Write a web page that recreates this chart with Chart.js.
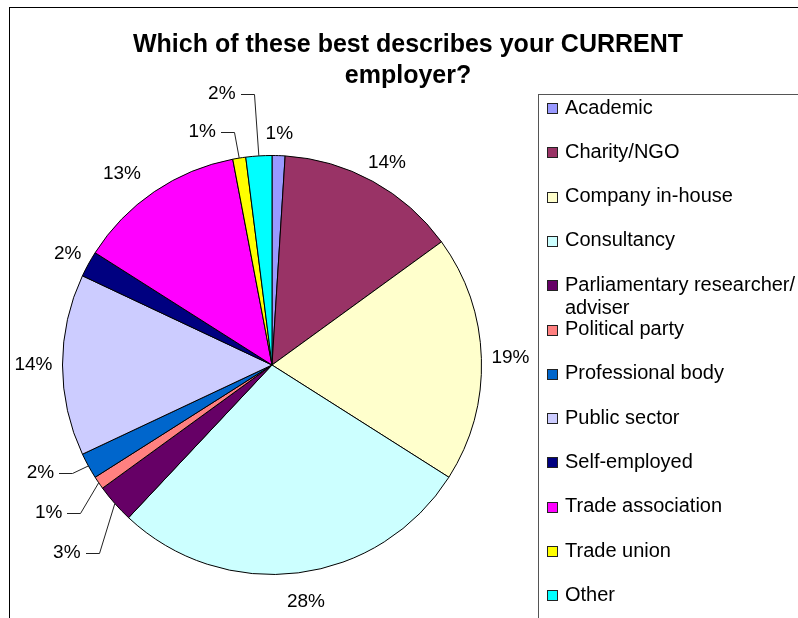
<!DOCTYPE html>
<html>
<head>
<meta charset="utf-8">
<script src="https://cdn.jsdelivr.net/npm/chart.js@4/dist/chart.umd.min.js"></script>
<style>
  html, body { margin: 0; padding: 0; background: #fff; }
  #wrap { width: 798px; height: 618px; }
</style>
</head>
<body>
<div id="wrap"><canvas id="pie" width="798" height="618"></canvas></div>
<script>
// survey answers, per cent of respondents
const titleLines = ['Which of these best describes your CURRENT', 'employer?'];
const categories = [
  'Academic', 'Charity/NGO', 'Company in-house', 'Consultancy',
  ['Parliamentary researcher/', 'adviser'], 'Political party', 'Professional body',
  'Public sector', 'Self-employed', 'Trade association', 'Trade union', 'Other'
];
const shares = [1, 14, 19, 28, 3, 1, 2, 14, 2, 13, 1, 2];

const sliceColors = [
  '#9999FF', '#993366', '#FFFFCC', '#CCFFFF', '#660066', '#FF8080',
  '#0066CC', '#CCCCFF', '#000080', '#FF00FF', '#FFFF00', '#00FFFF'
];

// labels pulled away from small slices: offset from the slice edge, drawn with a leader
const callouts = { 4: [-48, 49], 5: [-50, 30], 6: [-48, 7], 10: [-37, -26], 11: [-37, -62] };
// small hand nudges for a couple of outside labels
const nudges = { 3: [4, 8], 9: [-16, 0] };

const FONT = "'Liberation Sans', Arial, sans-serif";
const LABEL_GAP = 10;

const decor = {
  id: 'decor',
  beforeDraw(chart) {
    const x = chart.ctx;
    x.save();
    x.fillStyle = '#fff';
    x.fillRect(0, 0, chart.width, chart.height);
    x.restore();
  },
  afterDraw(chart) {
    const x = chart.ctx;
    x.save();

    // outer frame (runs off the right and bottom edges)
    x.strokeStyle = '#000';
    x.lineWidth = 1;
    x.strokeRect(9.5, 7.5, 800, 620);

    // title
    x.fillStyle = '#000';
    x.font = `bold 25px ${FONT}`;
    x.textAlign = 'center';
    x.textBaseline = 'alphabetic';
    titleLines.forEach((t, i) => x.fillText(t, 408, 52 + i * 31));

    // legend
    x.strokeStyle = '#555';
    x.strokeRect(538.5, 94.5, 300, 560);
    x.font = `20px ${FONT}`;
    x.textAlign = 'left';
    x.textBaseline = 'middle';
    const ds = chart.data.datasets[0];
    chart.data.labels.forEach((lab, i) => {
      const y = 108 + i * 44.3;
      x.fillStyle = ds.backgroundColor[i];
      x.fillRect(547.5, Math.round(y) - 4.5, 10, 10);
      x.strokeStyle = '#222';
      x.strokeRect(547.5, Math.round(y) - 4.5, 10, 10);
      x.fillStyle = '#000';
      (Array.isArray(lab) ? lab : [lab]).forEach((ln, k) => x.fillText(ln, 565, y + k * 23));
    });

    // percentage labels
    const total = shares.reduce((a, b) => a + b, 0);
    const meta = chart.getDatasetMeta(0);
    x.font = `19px ${FONT}`;
    x.textAlign = 'center';
    x.textBaseline = 'middle';
    x.strokeStyle = '#222';
    meta.data.forEach((arc, i) => {
      const p = arc.getProps(['x', 'y', 'startAngle', 'endAngle', 'outerRadius'], true);
      const mid = (p.startAngle + p.endAngle) / 2;
      const c = Math.cos(mid), s = Math.sin(mid);
      const txt = Math.round(ds.data[i] / total * 100) + '%';
      const w = x.measureText(txt).width, h = 23;
      const ex = p.x + c * p.outerRadius, ey = p.y + s * p.outerRadius;
      let lx, ly;
      if (callouts[i]) {
        lx = ex + callouts[i][0];
        ly = ey + callouts[i][1];
        const right = lx + w / 2;
        x.beginPath();
        x.moveTo(Math.round(right + 5), Math.round(ly) + 0.5);
        x.lineTo(Math.round(right + 18) + 0.5, Math.round(ly) + 0.5);
        x.lineTo(ex, ey);
        x.stroke();
      } else {
        const r = p.outerRadius + LABEL_GAP;
        const [dx, dy] = nudges[i] || [0, 0];
        lx = p.x + c * r + c * w / 2 + dx;
        ly = p.y + s * r + s * h / 2 + dy;
      }
      x.fillStyle = '#000';
      x.fillText(txt, lx, ly);
    });
    x.restore();
  }
};

new Chart(document.getElementById('pie'), {
  type: 'pie',
  data: {
    labels: categories,
    datasets: [{
      data: shares,
      backgroundColor: sliceColors,
      borderColor: '#000',
      borderWidth: 1
    }]
  },
  options: {
    responsive: false,
    animation: false,
    devicePixelRatio: 1,
    layout: { padding: { left: 62, top: 155, right: 316, bottom: 43 } },
    plugins: {
      legend: { display: false },
      title: { display: false },
      tooltip: { enabled: false }
    },
    events: []
  },
  plugins: [decor]
});
</script>
</body>
</html>
